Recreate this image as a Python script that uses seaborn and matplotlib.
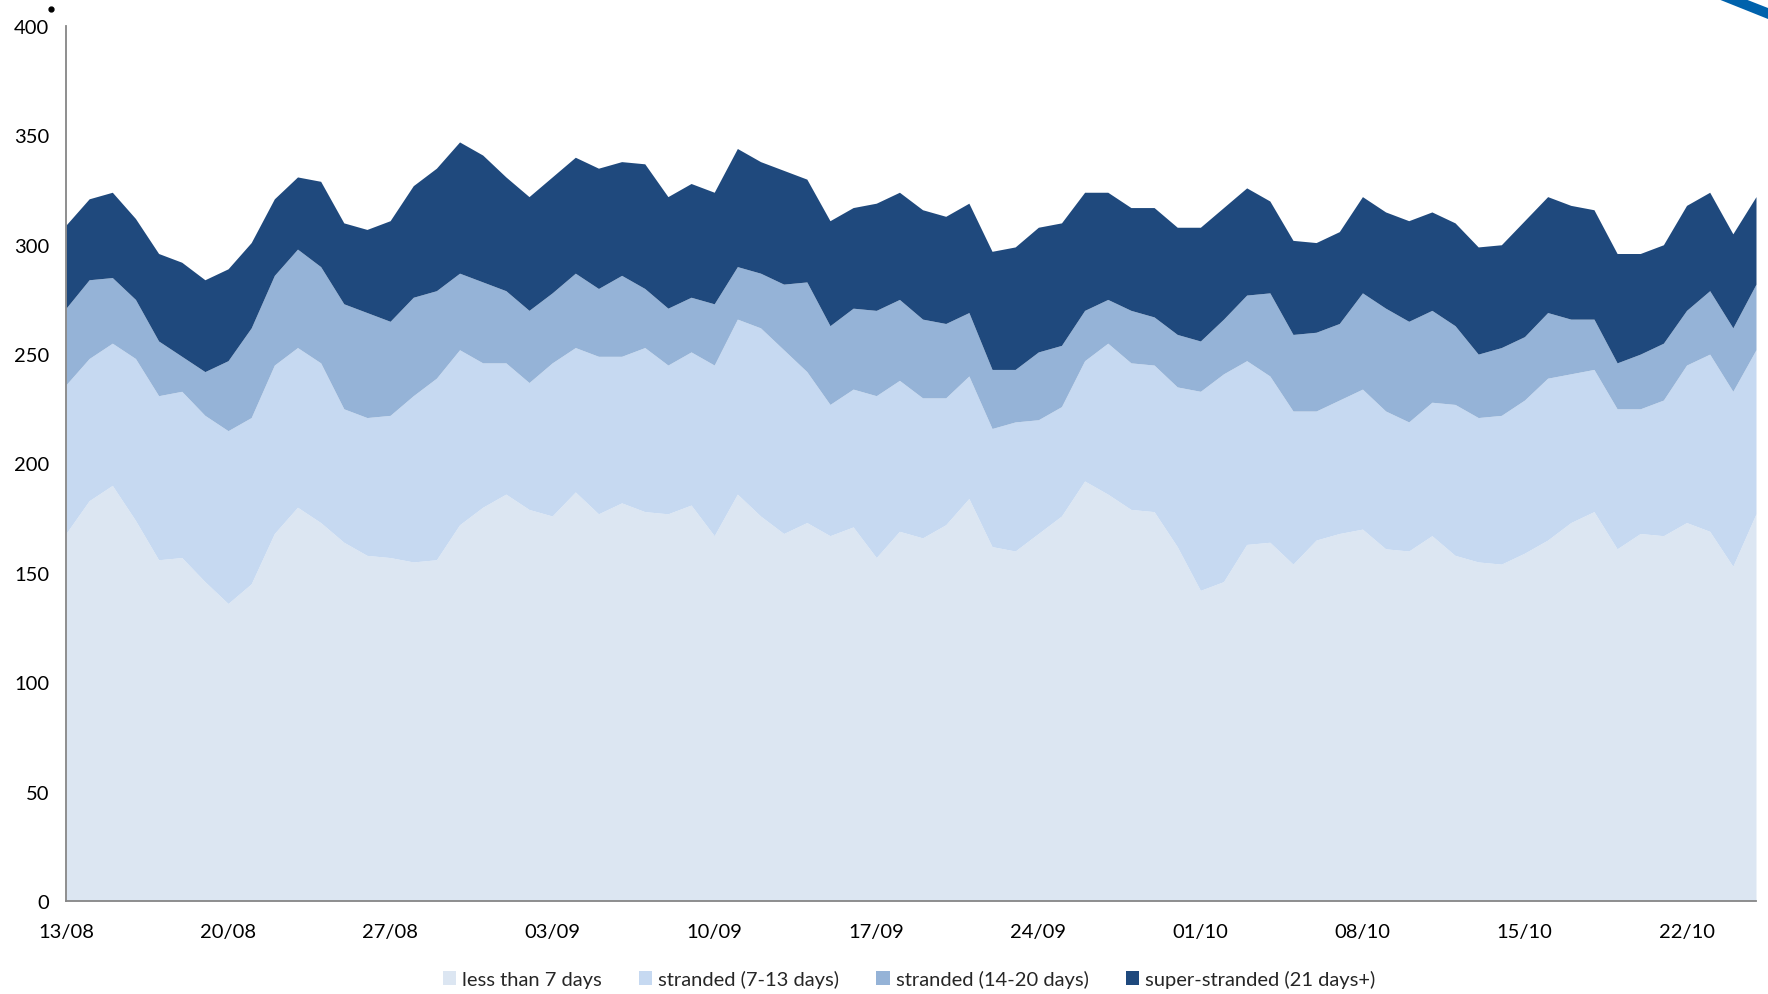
import matplotlib
matplotlib.use("Agg")
import matplotlib.pyplot as plt
from matplotlib.patches import Patch, Polygon
from matplotlib.lines import Line2D
from matplotlib.ticker import MultipleLocator
import seaborn as sns

# Daily patient counts by length of stay, 13 Aug - 25 Oct
days = list(range(74))
tick_labels = ["13/08", "20/08", "27/08", "03/09", "10/09", "17/09",
               "24/09", "01/10", "08/10", "15/10", "22/10"]

less_than_7 = [168, 183, 190, 174, 156, 157, 146, 136, 145, 168, 180, 173, 164, 158,
               157, 155, 156, 172, 180, 186, 179, 176, 187, 177, 182, 178, 177, 181,
               167, 186, 176, 168, 173, 167, 171, 157, 169, 166, 172, 184, 162, 160,
               168, 176, 192, 186, 179, 178, 162, 142, 146, 163, 164, 154, 165, 168,
               170, 161, 160, 167, 158, 155, 154, 159, 165, 173, 178, 161, 168, 167,
               173, 169, 153, 177]
stranded_7_13 = [68, 65, 65, 74, 75, 76, 76, 79, 76, 77, 73, 73, 61, 63,
                 65, 76, 83, 80, 66, 60, 58, 70, 66, 72, 67, 75, 68, 70,
                 78, 80, 86, 84, 69, 60, 63, 74, 69, 64, 58, 56, 54, 59,
                 52, 50, 55, 69, 67, 67, 73, 91, 95, 84, 76, 70, 59, 61,
                 64, 63, 59, 61, 69, 66, 68, 70, 74, 68, 65, 64, 57, 62,
                 72, 81, 80, 75]
stranded_14_20 = [35, 36, 30, 27, 25, 16, 20, 32, 41, 41, 45, 44, 48, 48,
                  43, 45, 40, 35, 37, 33, 33, 32, 34, 31, 37, 27, 26, 25,
                  28, 24, 25, 30, 41, 36, 37, 39, 37, 36, 34, 29, 27, 24,
                  31, 28, 23, 20, 24, 22, 24, 23, 25, 30, 38, 35, 36, 35,
                  44, 47, 46, 42, 36, 29, 31, 29, 30, 25, 23, 21, 25, 26,
                  25, 29, 29, 30]
super_stranded = [38, 37, 39, 37, 40, 43, 42, 42, 39, 35, 33, 39, 37, 38,
                  46, 51, 56, 60, 58, 52, 52, 53, 53, 55, 52, 57, 51, 52,
                  51, 54, 51, 52, 47, 48, 46, 49, 49, 50, 49, 50, 54, 56,
                  57, 56, 54, 49, 47, 50, 49, 52, 51, 49, 42, 43, 41, 42,
                  44, 44, 46, 45, 47, 49, 47, 53, 53, 52, 50, 50, 46, 45,
                  48, 45, 43, 40]

series_names = ["less than 7 days", "stranded (7-13 days)",
                "stranded (14-20 days)", "super-stranded (21 days+)"]
palette = sns.color_palette(["#DCE6F2", "#C6D9F1", "#95B3D7", "#1F497D"])

sns.set_theme(style="white")
plt.rcParams["font.family"] = ["Lato", "DejaVu Sans"]

W, H = 1768, 995
fig = plt.figure(figsize=(W / 100, H / 100), dpi=100)
ax = fig.add_axes([66 / W, 1 - 902 / H, (1756 - 66) / W, (902 - 27) / H])

ax.stackplot(days, less_than_7, stranded_7_13, stranded_14_20, super_stranded,
             colors=palette, linewidth=0, antialiased=True)

ax.set_xlim(0, days[-1])
ax.set_ylim(0, 400)
ax.yaxis.set_major_locator(MultipleLocator(50))
ax.set_xticks(range(0, 74, 7))
ax.set_xticklabels(tick_labels)
ax.xaxis.set_minor_locator(MultipleLocator(1))

axis_grey = "#868686"
sns.despine(ax=ax, top=True, right=True)
for side in ("left", "bottom"):
    ax.spines[side].set_color(axis_grey)
    ax.spines[side].set_linewidth(1.3)
ax.tick_params(axis="both", which="both", direction="out", color=axis_grey,
               width=1.3, length=6, labelsize=14.5, labelcolor="#000000")
ax.tick_params(axis="x", which="major", pad=10)
ax.tick_params(axis="y", which="major", pad=6)
ax.grid(False)

handles = [Patch(facecolor=c, edgecolor="none") for c in palette]
fig.legend(handles, series_names, loc="center", bbox_to_anchor=(909 / W, 1 - 980 / H),
           ncol=4, frameon=False, fontsize=14.5, handlelength=0.65, handleheight=0.65,
           handletextpad=0.3, columnspacing=1.85)

# corner decorations
fig.patches.append(Polygon([(1718 / W, 1.0), (1745 / W, 1.0), (1.0, 1 - 9 / H),
                            (1.0, 1 - 20 / H)], closed=True, transform=fig.transFigure,
                           facecolor="#0062AC", edgecolor="none"))
fig.add_artist(Line2D([51 / W], [1 - 10 / H], transform=fig.transFigure, marker="o",
                      markersize=3.5, color="#000000", linestyle="none"))

fig.savefig("out.png", dpi=100)
